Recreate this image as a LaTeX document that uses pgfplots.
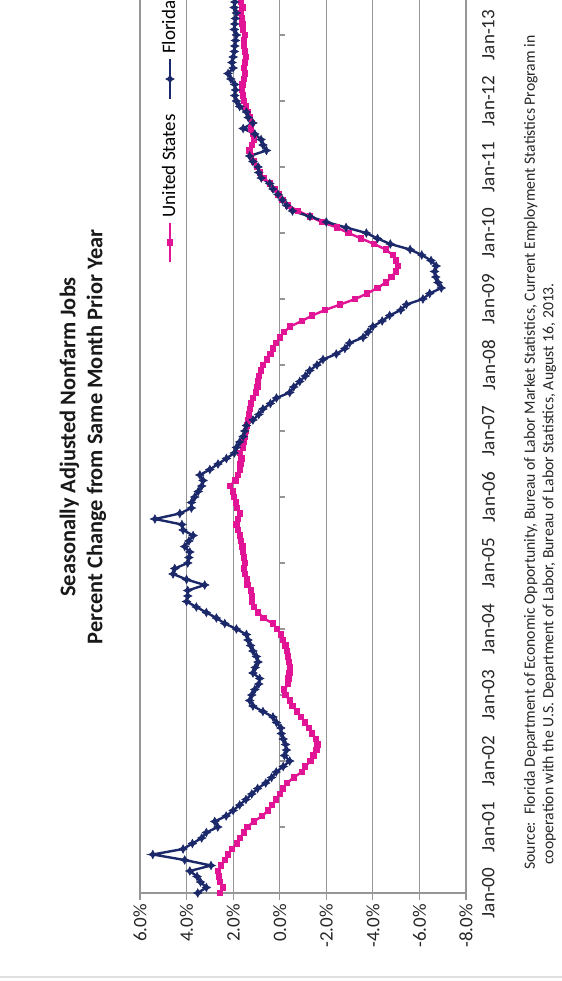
\documentclass[border=0pt]{standalone}
\usepackage{fontspec}
\setmainfont{Carlito}
\usepackage{pgfplots}
\pgfplotsset{compat=1.18}
\usepackage{pgfplotstable}
\definecolor{usmag}{RGB}{226,20,150}
\definecolor{flnavy}{RGB}{27,40,105}
\definecolor{gridgray}{RGB}{150,150,150}
\pgfdeclareplotmark{star4}{%
  \pgfpathmoveto{\pgfqpoint{0pt}{\pgfplotmarksize}}%
  \pgfpathlineto{\pgfqpoint{0.35\pgfplotmarksize}{0.35\pgfplotmarksize}}%
  \pgfpathlineto{\pgfqpoint{\pgfplotmarksize}{0pt}}%
  \pgfpathlineto{\pgfqpoint{0.35\pgfplotmarksize}{-0.35\pgfplotmarksize}}%
  \pgfpathlineto{\pgfqpoint{0pt}{-\pgfplotmarksize}}%
  \pgfpathlineto{\pgfqpoint{-0.35\pgfplotmarksize}{-0.35\pgfplotmarksize}}%
  \pgfpathlineto{\pgfqpoint{-\pgfplotmarksize}{0pt}}%
  \pgfpathlineto{\pgfqpoint{-0.35\pgfplotmarksize}{0.35\pgfplotmarksize}}%
  \pgfpathclose
  \pgfusepathqfillstroke}
\begin{document}
\pgfplotstableread{
m v
0 2.57
1 2.45
2 2.58
3 2.62
4 2.66
5 2.52
6 2.35
7 2.22
8 2.05
9 1.85
10 1.72
11 1.52
12 1.38
13 1.12
14 0.75
15 0.50
16 0.32
17 0.15
18 0.00
19 -0.15
20 -0.32
21 -0.60
22 -0.95
23 -1.10
24 -1.32
25 -1.45
26 -1.58
27 -1.62
28 -1.55
29 -1.40
30 -1.25
31 -1.10
32 -0.90
33 -0.75
34 -0.55
35 -0.43
36 -0.25
37 -0.20
38 -0.36
39 -0.38
40 -0.42
41 -0.45
42 -0.40
43 -0.35
44 -0.32
45 -0.25
46 -0.15
47 -0.05
48 0.10
49 0.30
50 0.70
51 0.92
52 1.10
53 1.20
54 1.18
55 1.25
56 1.38
57 1.42
58 1.48
59 1.52
60 1.50
61 1.55
62 1.58
63 1.60
64 1.65
65 1.72
66 1.78
67 1.86
68 1.80
69 1.70
70 1.82
71 1.88
72 1.95
73 2.02
74 2.14
75 1.90
76 1.80
77 1.72
78 1.68
79 1.64
80 1.70
81 1.58
82 1.55
83 1.50
84 1.45
85 1.42
86 1.37
87 1.32
88 1.28
89 1.22
90 1.15
91 1.02
92 0.95
93 0.92
94 0.90
95 0.80
96 0.72
97 0.55
98 0.40
99 0.30
100 0.15
101 0.00
102 -0.20
103 -0.45
104 -0.95
105 -1.40
106 -1.95
107 -2.60
108 -3.25
109 -3.75
110 -4.20
111 -4.55
112 -4.80
113 -4.98
114 -5.07
115 -5.00
116 -4.85
117 -4.55
118 -4.05
119 -3.50
120 -2.95
121 -2.45
122 -1.80
123 -1.30
124 -0.80
125 -0.35
126 -0.12
127 0.05
128 0.22
129 0.42
130 0.68
131 0.85
132 0.98
133 1.12
134 1.22
135 1.30
136 1.18
137 1.12
138 1.15
139 1.22
140 1.18
141 1.28
142 1.35
143 1.45
144 1.55
145 1.58
146 1.62
147 1.60
148 1.55
149 1.48
150 1.52
151 1.50
152 1.45
153 1.48
154 1.52
155 1.55
156 1.50
157 1.58
158 1.60
159 1.62
160 1.65
161 1.60
162 1.65
}\usdata
\pgfplotstableread{
m v
0 3.52
1 3.15
2 3.40
3 3.55
4 3.86
5 2.95
6 4.08
7 5.45
8 4.15
9 3.75
10 3.35
11 3.15
12 2.66
13 2.79
14 2.30
15 2.00
16 1.72
17 1.45
18 1.20
19 0.95
20 0.60
21 0.35
22 0.15
23 -0.15
24 -0.43
25 -0.20
26 -0.29
27 -0.25
28 -0.15
29 -0.07
30 -0.05
31 0.14
32 0.29
33 0.72
34 1.15
35 1.29
36 1.20
37 1.07
38 0.90
39 0.86
40 1.15
41 1.05
42 0.93
43 1.00
44 1.15
45 1.25
46 1.36
47 1.43
48 1.86
49 2.36
50 2.72
51 3.15
52 3.58
53 4.00
54 3.95
55 3.95
56 3.22
57 4.00
58 4.58
59 4.51
60 3.95
61 3.90
62 3.86
63 4.08
64 3.90
65 3.72
66 4.15
67 4.20
68 5.36
69 4.29
70 3.79
71 3.79
72 3.65
73 3.50
74 3.35
75 3.29
76 3.43
77 3.00
78 2.65
79 2.29
80 1.95
81 1.86
82 1.72
83 1.57
84 1.50
85 1.43
86 1.15
87 0.90
88 0.72
89 0.40
90 0.14
91 -0.43
92 -0.60
93 -0.86
94 -1.10
95 -1.29
96 -1.60
97 -1.86
98 -2.43
99 -2.80
100 -3.00
101 -3.58
102 -3.80
103 -4.00
104 -4.40
105 -4.72
106 -5.20
107 -5.44
108 -6.15
109 -6.44
110 -6.94
111 -6.80
112 -6.70
113 -6.65
114 -6.72
115 -6.50
116 -6.10
117 -5.60
118 -4.75
119 -4.20
120 -3.72
121 -2.85
122 -2.00
123 -1.30
124 -0.55
125 -0.30
126 -0.12
127 0.07
128 0.29
129 0.43
130 0.79
131 0.90
132 0.93
133 1.15
134 1.29
135 0.57
136 0.72
137 0.80
138 1.07
139 1.57
140 1.15
141 1.35
142 1.43
143 1.72
144 1.86
145 1.93
146 1.90
147 1.93
148 2.10
149 2.22
150 2.00
151 2.05
152 2.00
153 1.95
154 1.93
155 1.90
156 1.86
157 1.95
158 1.93
159 1.90
160 1.86
161 1.95
162 1.93
}\fldata
\rotatebox{90}{%
\begin{tikzpicture}
\useasboundingbox (0,0) rectangle (490.5pt,281pt);
\clip (0,0) rectangle (490.5pt,281pt);
\begin{axis}[
  scale only axis,
  anchor=south west,
  at={(44pt,48pt)},
  width=462pt, height=163pt,
  xmin=0, xmax=168, ymin=-8, ymax=6,
  axis line style={gridgray, line width=0.6pt},
  ymajorgrids,
  grid style={gridgray, line width=0.6pt},
  ytick={-8,-6,-4,-2,0,2,4,6},
  yticklabel={\pgfmathprintnumber[fixed,fixed zerofill,precision=1]{\tick}\%},
  /pgf/number format/assume math mode=true,
  xtick={0,12,24,36,48,60,72,84,96,108,120,132,144,156},
  xticklabels={Jan-00,Jan-01,Jan-02,Jan-03,Jan-04,Jan-05,Jan-06,Jan-07,Jan-08,Jan-09,Jan-10,Jan-11,Jan-12,Jan-13},
  tick align=outside,
  major tick length=3.5pt,
  ytick style={gridgray, line width=0.6pt},
  xtick style={draw=none},
  ticklabel style={font=\fontsize{9.5}{11}\selectfont, text=black!85},
  yticklabel style={xshift=1.5pt},
  xticklabel style={yshift=-1pt},
  legend columns=2,
  legend cell align=left,
  legend style={draw=none, fill=none, at={(0.6807,0.908)}, anchor=west,
    font=\fontsize{9.5}{11}\selectfont, inner sep=0pt,
    /tikz/every even column/.append style={column sep=5pt}},
  legend image code/.code={\draw[mark repeat=2,mark phase=2,#1] plot coordinates {(0cm,0cm) (0.35cm,0cm) (0.7cm,0cm)};},
]
\addplot[usmag, line width=1.2pt, mark=square*, mark size=0.95pt, mark options={solid}] table[x=m, y=v] {\usdata};
\addlegendentry{United States}
\addplot[flnavy, line width=1.2pt, mark=star4, mark size=2.1pt, mark options={solid, line width=0.3pt}] table[x=m, y=v] {\fldata};
\addlegendentry{Florida}
\pgfplotsinvokeforeach{12,24,36,48,60,72,84,96,108,120,132,144,156}{%
  \draw[gridgray, line width=0.6pt] (axis cs:#1,0) -- ++(0pt,-2.5pt);
}
\end{axis}
\node[align=center, font=\fontsize{11.2}{13.5}\selectfont\bfseries, text=black!90] at (272pt,239.5pt)
  {Seasonally Adjusted Nonfarm Jobs\\Percent Change from Same Month Prior Year};
\node[anchor=base west, inner sep=0pt, font=\fontsize{7.85}{9}\selectfont, text=black!85] at (55.5pt,13.5pt)
  {Source:\ \ Florida Department of Economic Opportunity, Bureau of Labor Market Statistics, Current Employment Statistics Program in};
\node[anchor=base west, inner sep=0pt, font=\fontsize{7.85}{9}\selectfont, text=black!85] at (58pt,4.3pt)
  {cooperation with the U.S. Department of Labor, Bureau of Labor Statistics, August 16, 2013.};
\draw[black!12, line width=0.8pt] (2pt,0pt) -- (2pt,281pt);
\end{tikzpicture}}
\end{document}
